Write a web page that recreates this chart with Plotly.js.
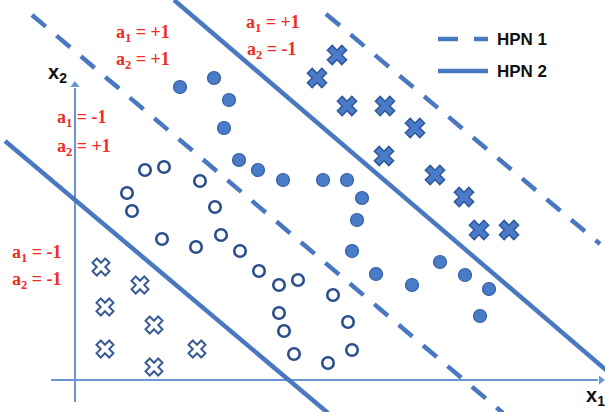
<!DOCTYPE html>
<html>
<head>
<meta charset="utf-8">
<script src="https://cdn.plot.ly/plotly-3.0.1.min.js"></script>
<style>
  html, body { margin: 0; padding: 0; background: #ffffff; }
  #chart { width: 605px; height: 412px; }
</style>
</head>
<body>
<div id="chart"></div>
<script>
// Drawing plane: x runs left to right, y runs top to bottom (0..605, 0..412).

// Class a1=+1, a2=+1 (filled circles)
const filledCircleX = [180, 214, 229, 224, 239, 258, 283, 323, 347, 362, 357, 352, 376, 412, 440, 465, 489, 480];
const filledCircleY = [87, 78, 100, 128, 160, 170, 180, 180, 180, 198, 220, 251, 274, 285, 262, 275, 289, 316];

// Class a1=-1, a2=+1 (open circles)
const openCircleX = [145, 164, 127, 132, 162, 200, 215, 196, 221, 240, 259, 279, 298, 333, 279, 284, 294, 328, 348, 352];
const openCircleY = [170, 167, 193, 211, 239, 181, 207, 247, 235, 251, 271, 285, 280, 295, 313, 331, 354, 363, 322, 350];

// Class a1=+1, a2=-1 (filled crosses)
const filledCrossX = [337, 317, 347, 385, 415, 384, 435, 464, 479, 509];
const filledCrossY = [55, 78, 106, 106, 128, 156, 175, 197, 230, 230];

// Class a1=-1, a2=-1 (open crosses)
const openCrossX = [101, 140, 105, 154, 105, 154, 197];
const openCrossY = [267, 285, 307, 325, 349, 367, 349];

// Hyperplanes: endpoints of each separating line
const hpn1UpperX = [326, 600];
const hpn1UpperY = [14, 244];
const hpn1LowerX = [32, 503];
const hpn1LowerY = [15, 413];
const hpn2UpperX = [174, 606];
const hpn2UpperY = [0, 370];
const hpn2LowerX = [5, 328];
const hpn2LowerY = [141, 413];

// Coordinate axes (origin lines)
const axisX1 = {x: [51, 598], y: [380, 380]};
const axisX2 = {x: [75, 75], y: [402, 88]};

// Region labels
const regionLabels = [
  {x: 143, y: 33, text: "a<sub>1</sub> = +1"},
  {x: 143, y: 60, text: "a<sub>2</sub> = +1"},
  {x: 273, y: 23, text: "a<sub>1</sub> = +1"},
  {x: 272, y: 50, text: "a<sub>2</sub> = -1"},
  {x: 82, y: 118, text: "a<sub>1</sub> = -1"},
  {x: 84, y: 147, text: "a<sub>2</sub> = +1"},
  {x: 37, y: 253, text: "a<sub>1</sub> = -1"},
  {x: 37, y: 280, text: "a<sub>2</sub> = -1"}
];

const legendNames = ["HPN 1", "HPN 2"];

const lineBlue = "#4a78c0";
const axisBlue = "#6a96d4";
const dashPattern = "18px,14px";

function lineTrace(xs, ys, dashed) {
  return {
    x: xs, y: ys, type: "scatter", mode: "lines",
    line: {color: lineBlue, width: 4.5, dash: dashed ? dashPattern : "solid"},
    hoverinfo: "skip", showlegend: false
  };
}

const traces = [
  // axes
  {x: axisX1.x, y: axisX1.y, type: "scatter", mode: "lines", line: {color: axisBlue, width: 2}, showlegend: false},
  {x: axisX2.x, y: axisX2.y, type: "scatter", mode: "lines", line: {color: axisBlue, width: 2}, showlegend: false},
  {x: [601], y: [380], type: "scatter", mode: "markers",
   marker: {symbol: "triangle-right", size: 8, color: axisBlue}, showlegend: false},
  {x: [75], y: [85], type: "scatter", mode: "markers",
   marker: {symbol: "triangle-up", size: 8, color: axisBlue}, showlegend: false},
  // hyperplanes
  lineTrace(hpn1UpperX, hpn1UpperY, true),
  lineTrace(hpn1LowerX, hpn1LowerY, true),
  lineTrace(hpn2UpperX, hpn2UpperY, false),
  lineTrace(hpn2LowerX, hpn2LowerY, false),
  {
    x: filledCircleX, y: filledCircleY, type: "scatter", mode: "markers",
    marker: {symbol: "circle", size: 13, color: "#4a7bc8", line: {color: "#3460a6", width: 1.2}},
    showlegend: false
  },
  {
    x: openCircleX, y: openCircleY, type: "scatter", mode: "markers",
    marker: {symbol: "circle", size: 11.5, color: "#ffffff", line: {color: "#2b4f8c", width: 2.6}},
    showlegend: false
  },
  {
    x: filledCrossX, y: filledCrossY, type: "scatter", mode: "markers",
    marker: {symbol: "x", size: 17, color: "#4a7bc8", line: {color: "#30589a", width: 1.5}},
    showlegend: false
  },
  {
    x: openCrossX, y: openCrossY, type: "scatter", mode: "markers",
    marker: {symbol: "x", size: 15, color: "#ffffff", line: {color: "#3a5d98", width: 2}},
    showlegend: false
  },
  // legend samples
  {
    x: [438, 488], y: [39, 39], type: "scatter", mode: "lines",
    line: {color: lineBlue, width: 4.5, dash: "20px,16px"}, showlegend: false, hoverinfo: "skip"
  },
  {
    x: [438, 488], y: [71, 71], type: "scatter", mode: "lines",
    line: {color: lineBlue, width: 4.5}, showlegend: false, hoverinfo: "skip"
  }
];

const annotations = regionLabels.map(l => ({
  x: l.x, y: l.y, xref: "x", yref: "y", text: "<b>" + l.text + "</b>", showarrow: false,
  font: {family: "Liberation Serif", size: 18, color: "#ee2b24", weight: 700},
  xanchor: "center", yanchor: "middle"
}));

// legend text
annotations.push(
  {x: 495, y: 39, xref: "x", yref: "y", text: "<b>" + legendNames[0] + "</b>", showarrow: false, xanchor: "left", yanchor: "middle",
   font: {family: "Liberation Sans", size: 17, color: "#111111"}},
  {x: 495, y: 71, xref: "x", yref: "y", text: "<b>" + legendNames[1] + "</b>", showarrow: false, xanchor: "left", yanchor: "middle",
   font: {family: "Liberation Sans", size: 17, color: "#111111"}}
);

// axis names
annotations.push(
  {x: 57, y: 73, xref: "x", yref: "y", text: "<b>x<sub>2</sub></b>", showarrow: false,
   font: {family: "Liberation Sans", size: 20, color: "#111111"}},
  {x: 584, y: 396, xref: "x", yref: "y", text: "<b>x<sub>1</sub></b>", showarrow: false, xanchor: "left",
   font: {family: "Liberation Sans", size: 20, color: "#111111"}}
);

const layout = {
  width: 605, height: 412,
  margin: {l: 0, r: 0, t: 0, b: 0},
  paper_bgcolor: "#ffffff", plot_bgcolor: "#ffffff",
  xaxis: {range: [0, 605], visible: false, fixedrange: true},
  yaxis: {range: [412, 0], visible: false, fixedrange: true},
  annotations: annotations,
  showlegend: false
};

Plotly.newPlot("chart", traces, layout, {staticPlot: true, displayModeBar: false});
</script>
</body>
</html>
